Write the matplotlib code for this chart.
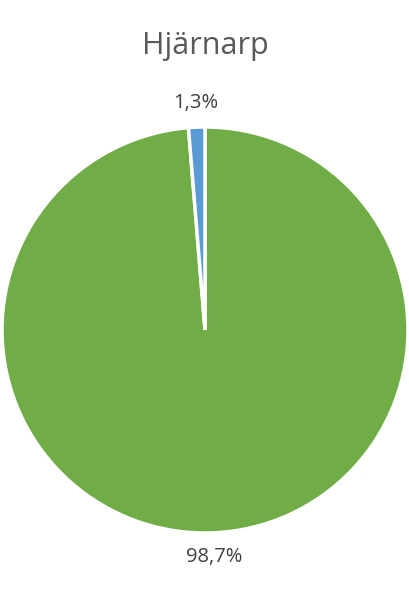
import matplotlib.pyplot as plt
import numpy as np

# data
labels = ["Övrigt", "Blå"]
values = [98.7, 1.3]
pct_text = ["98,7%", "1,3%"]
colors = ["#70AD47", "#5B9BD5"]

plt.rcParams['font.family'] = ['Open Sans', 'DejaVu Sans']

fig = plt.figure(figsize=(4.1, 6.0), dpi=100)
ax = fig.add_axes([2 / 410, 67 / 600, 406 / 410, 406 / 600])

wedges, _ = ax.pie(values, colors=colors, startangle=90, counterclock=False,
                   wedgeprops=dict(edgecolor="white", linewidth=2.5))

# percentage labels outside the pie
for w, t in zip(wedges, pct_text):
    ang = np.deg2rad((w.theta1 + w.theta2) / 2)
    ax.text(1.12 * np.cos(ang), 1.12 * np.sin(ang), t, ha="center", va="center",
            fontsize=14.5, color="#404040")

ax.set_xlim(-1, 1)
ax.set_ylim(-1, 1)
ax.set_aspect("equal")

fig.text(0.5, 1 - 46 / 600, "Hjärnarp", ha="center", va="center",
         fontsize=22, color="#595959")

fig.savefig("out.png", dpi=100)
